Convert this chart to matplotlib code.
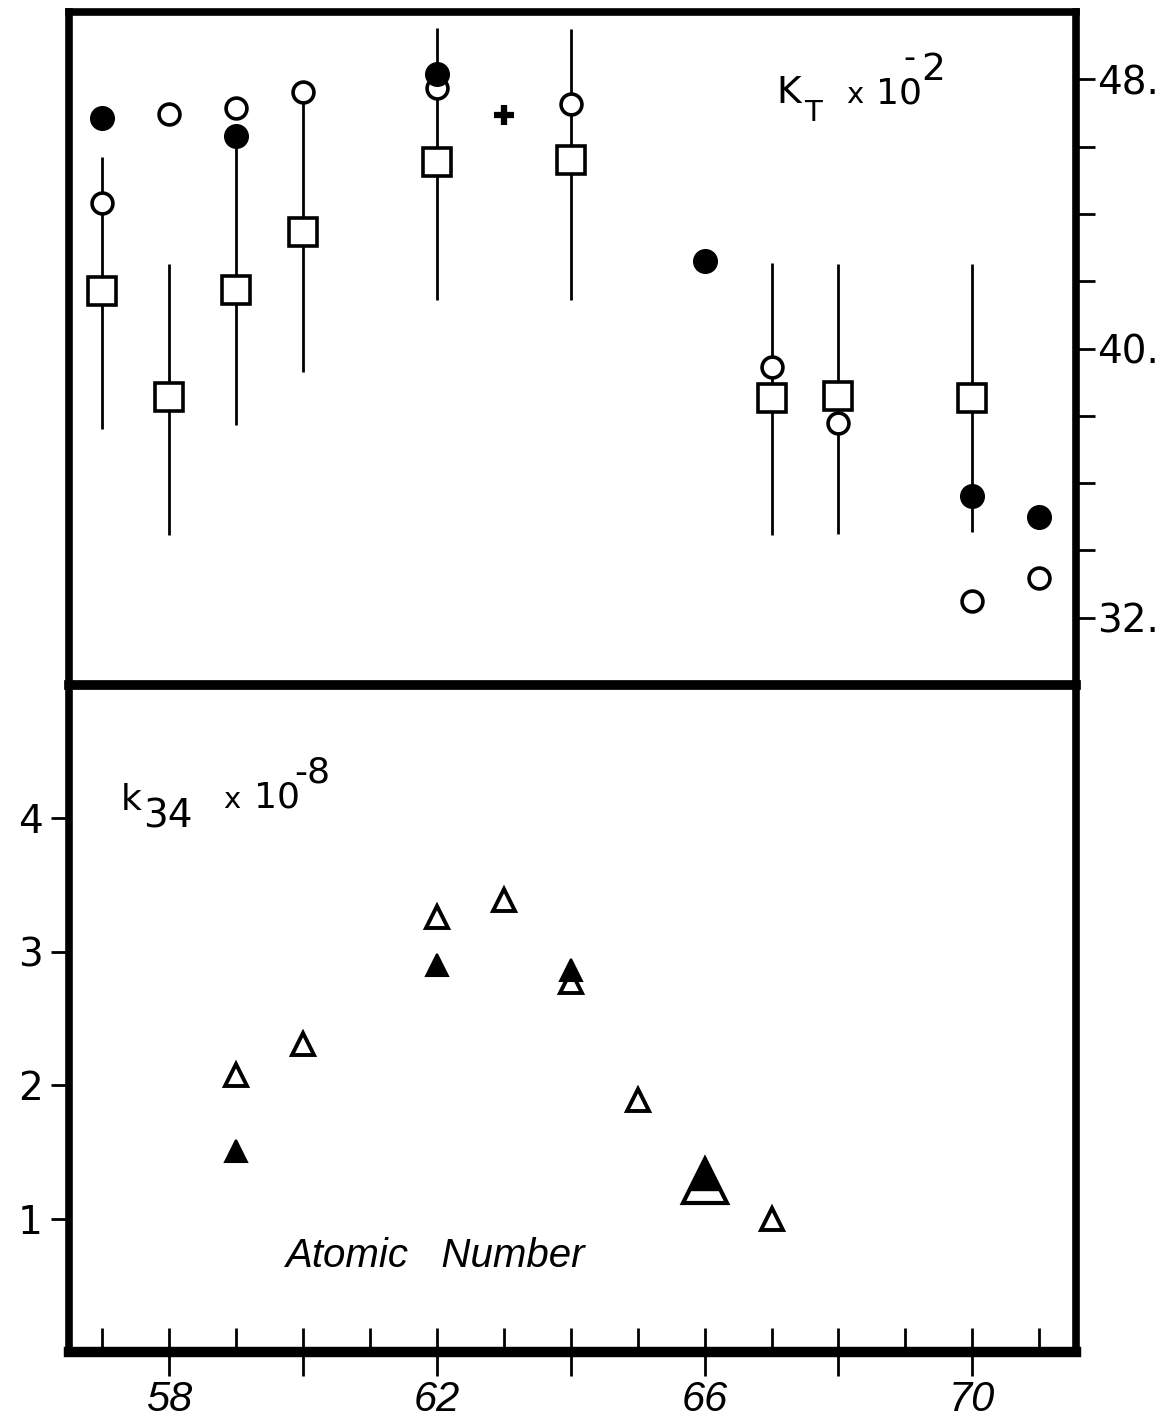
import matplotlib
matplotlib.use("Agg")
import matplotlib.pyplot as plt
from matplotlib.ticker import FixedLocator, FixedFormatter

# ---------------- data ----------------
# top panel: K_T x 10^-2
kt_filled_x = [57, 59, 62, 66, 70, 71]
kt_filled_y = [46.85, 46.31, 48.17, 42.59, 35.62, 34.98]
kt_open_x = [57, 58, 59, 60, 62, 64, 67, 68, 70, 71]
kt_open_y = [44.32, 46.97, 47.15, 47.63, 47.74, 47.28, 39.45, 37.79, 32.51, 33.19]
kt_square_x = [57, 58, 59, 60, 62, 64, 67, 68, 70]
kt_square_y = [41.72, 38.55, 41.74, 43.46, 45.54, 45.59, 38.52, 38.59, 38.52]
kt_err_lo = [37.6, 34.46, 37.72, 39.3, 41.45, 41.45, 34.45, 34.5, 34.54]
kt_err_hi = [45.7, 42.5, 46.3, 47.5, 49.52, 49.48, 42.55, 42.5, 42.5]
kt_plus_x = [63]
kt_plus_y = [46.94]

# bottom panel: k34 x 10^-8
k34_open_x = [59, 60, 62, 63, 64, 65, 67]
k34_open_y = [2.08, 2.31, 3.26, 3.39, 2.77, 1.89, 1.0]
k34_filled_x = [59, 62, 64]
k34_filled_y = [1.51, 2.90, 2.86]
k34_big_open_x = [66]
k34_big_open_y = [1.28]
k34_big_filled_x = [66]
k34_big_filled_y = [1.32]

x_major = [58, 60, 62, 64, 66, 68, 70]
x_major_labels = ["58", "", "62", "", "66", "", "70"]
x_minor = [57, 59, 61, 63, 65, 67, 69, 71]
top_ticks = [32, 34, 36, 38, 40, 42, 44, 46, 48]
top_labels = ["32.", "", "", "", "40.", "", "", "", "48."]
bot_ticks = [1, 2, 3, 4]
bot_labels = ["1", "2", "3", "4"]

# ---------------- figure ----------------
W, H = 1176, 1420
fig = plt.figure(figsize=(W / 100, H / 100), dpi=100)
fig.patch.set_facecolor("white")

L, R = 69 / W, 1076 / W
top_y0, top_y1 = 1 - 685 / H, 1 - 12 / H
bot_y0, bot_y1 = 1 - 1352 / H, 1 - 685 / H

ax1 = fig.add_axes([L, top_y0, R - L, top_y1 - top_y0])
ax2 = fig.add_axes([L, bot_y0, R - L, bot_y1 - bot_y0], sharex=ax1)

for ax in (ax1, ax2):
    for s in ax.spines.values():
        s.set_linewidth(5.5)
        s.set_color("black")
        s.set_capstyle("projecting")
ax1.spines["bottom"].set_visible(False)
ax2.spines["top"].set_linewidth(7)
ax2.spines["bottom"].set_linewidth(7.5)

ax1.set_xlim(56.5, 71.55)
ax1.set_ylim(30.0, 50.0)
ax2.set_ylim(0.0, 5.0)

# ---- top panel marks ----
ax1.vlines(kt_square_x, kt_err_lo, kt_err_hi, color="black", lw=2.0, zorder=2)
ax1.plot(kt_square_x, kt_square_y, ls="none", marker="s", ms=19.5, mfc="white",
         mec="black", mew=2.6, zorder=3)
ax1.plot(kt_open_x, kt_open_y, ls="none", marker="o", ms=15, mfc="white",
         mec="black", mew=2.6, zorder=4)
ax1.plot(kt_filled_x, kt_filled_y, ls="none", marker="o", ms=17, mfc="black",
         mec="black", mew=1.0, zorder=5)
ax1.plot(kt_plus_x, kt_plus_y, ls="none", marker="+", ms=15, mew=4.5,
         color="black", zorder=5)

# ---- bottom panel marks ----
ax2.plot(k34_big_open_x, k34_big_open_y, ls="none", marker="^", ms=31,
         mfc="white", mec="black", mew=3.0, zorder=3)
ax2.plot(k34_big_filled_x, k34_big_filled_y, ls="none", marker="^", ms=20,
         mfc="black", mec="black", mew=1.0, zorder=4)
ax2.plot(k34_open_x, k34_open_y, ls="none", marker="^", ms=15.5, mfc="white",
         mec="black", mew=2.8, zorder=3)
ax2.plot(k34_filled_x, k34_filled_y, ls="none", marker="^", ms=16.5,
         mfc="black", mec="black", mew=1.5, zorder=4)

# ---- ticks ----
ax1.tick_params(axis="x", which="both", bottom=False, top=False,
                labelbottom=False)
ax1.yaxis.tick_right()
ax1.yaxis.set_major_locator(FixedLocator(top_ticks))
ax1.yaxis.set_major_formatter(FixedFormatter(top_labels))
ax1.tick_params(axis="y", which="major", direction="out", length=14,
                width=2.0, pad=1, labelsize=28, left=False, right=True)
for t in ax1.get_yticklabels():
    t.set_fontfamily("DejaVu Sans")

ax2.xaxis.set_major_locator(FixedLocator(x_major))
ax2.xaxis.set_major_formatter(FixedFormatter(x_major_labels))
ax2.xaxis.set_minor_locator(FixedLocator(x_minor))
ax2.tick_params(axis="x", which="major", direction="inout", length=35,
                width=2.0, pad=3, labelsize=30, top=False, bottom=True)
ax2.tick_params(axis="x", which="minor", direction="in", length=17,
                width=2.0, top=False, bottom=True)
for t in ax2.get_xticklabels():
    t.set_fontfamily("Liberation Sans")
    t.set_fontstyle("italic")

ax2.yaxis.set_major_locator(FixedLocator(bot_ticks))
ax2.yaxis.set_major_formatter(FixedFormatter(bot_labels))
ax2.tick_params(axis="y", which="major", direction="out", length=13,
                width=2.0, pad=6, labelsize=28, left=True, right=False)
ax2.tick_params(axis="y", which="minor", left=False, right=False)
for t in ax2.get_yticklabels():
    t.set_fontfamily("DejaVu Sans")


def ftxt(x, y, s, size, **kw):
    fig.text(x / W, 1 - y / H, s, fontsize=size, family="DejaVu Sans",
             va="baseline", ha="left", **kw)

# K_T x 10^-2
ftxt(776, 103, "K", 27)
ftxt(804, 121, "T", 21)
ftxt(846, 103, "x", 21)
ftxt(876, 103, "10", 26)
ftxt(903, 68, "-", 24)
ftxt(921, 80, "2", 27)

# k34 x 10^-8
ftxt(121, 810, "k", 26)
ftxt(143, 828, "34", 28)
ftxt(223, 808, "x", 21)
ftxt(254, 808, "10", 26)
ftxt(294, 782, "-8", 26)

fig.text(286 / W, 1 - 1267 / H, "Atomic   Number", fontsize=29,
         family="Liberation Sans", style="italic", va="baseline", ha="left")

fig.savefig("out.png", dpi=100, facecolor="white")
